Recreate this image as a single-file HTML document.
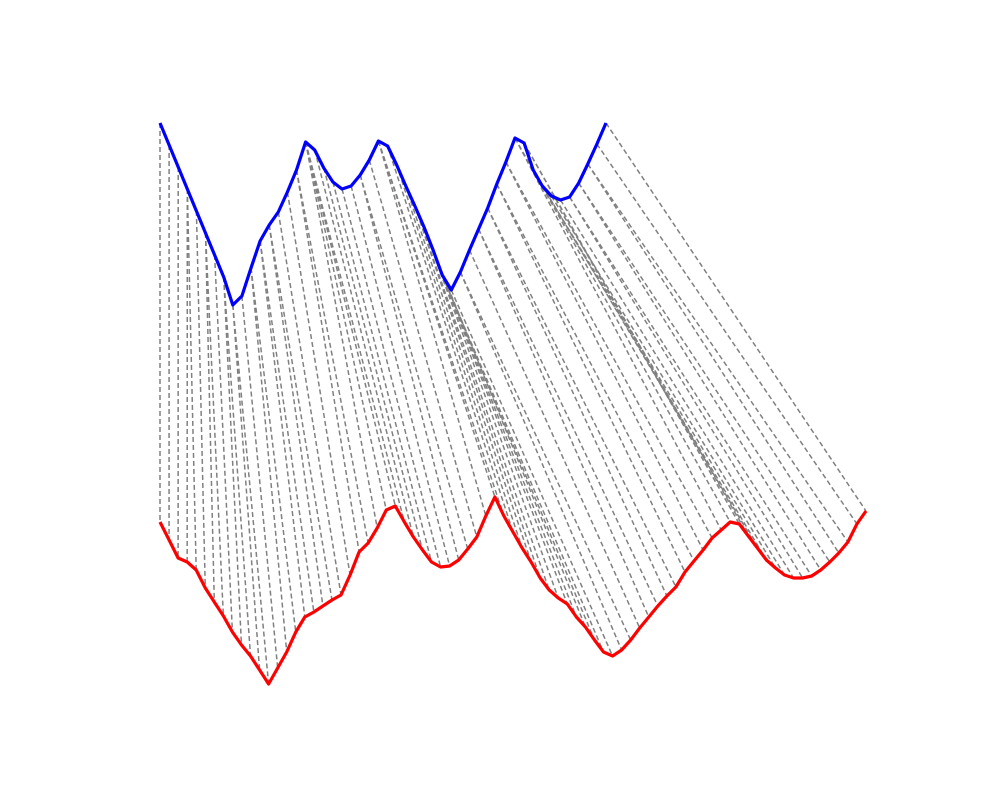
<!DOCTYPE html>
<html>
<head>
<meta charset="utf-8">
<style>
html,body{margin:0;padding:0;background:#fff;}
svg{display:block;}
</style>
</head>
<body>
<svg id="chart" width="1000" height="800" viewBox="0 0 1000 800" xmlns="http://www.w3.org/2000/svg">
  <g id="links"></g>
  <path id="blue" fill="none" stroke="#0000ff" stroke-width="3.2" stroke-linejoin="round"></path>
  <path id="red" fill="none" stroke="#ff0000" stroke-width="3.2" stroke-linejoin="round"></path>
</svg>
<script>
const blueValues = [5.77,5.55,5.33,5.11,4.89,4.67,4.45,4.23,3.95,4.04,4.32,4.59,4.75,4.88,5.08,5.30,5.58,5.50,5.32,5.18,5.11,5.14,5.25,5.40,5.59,5.54,5.35,5.14,4.94,4.73,4.50,4.25,4.10,4.28,4.50,4.71,4.92,5.16,5.38,5.62,5.57,5.30,5.14,5.04,5.00,5.03,5.17,5.36,5.56,5.77];
const redValues = [1.78,1.60,1.42,1.38,1.30,1.12,0.98,0.84,0.68,0.55,0.44,0.30,0.16,0.32,0.48,0.68,0.83,0.88,0.94,1.00,1.05,1.25,1.48,1.57,1.72,1.90,1.94,1.78,1.63,1.50,1.38,1.33,1.34,1.40,1.51,1.63,1.84,2.03,1.84,1.68,1.52,1.38,1.22,1.10,1.02,0.96,0.83,0.73,0.60,0.48,0.44,0.50,0.60,0.72,0.83,0.94,1.04,1.13,1.28,1.39,1.50,1.62,1.70,1.78,1.76,1.64,1.52,1.40,1.32,1.25,1.22,1.22,1.24,1.30,1.38,1.47,1.58,1.76,1.89];

const X0 = 160, BLUE_END = 606, RED_END = 866;
function xBlue(i){ return X0 + i*(BLUE_END-X0)/(blueValues.length-1); }
function xRed(j){ return X0 + j*(RED_END-X0)/(redValues.length-1); }
function yScale(v){ return 700 - v*100; }

function zn(a){
  const m = a.reduce((s,v)=>s+v,0)/a.length;
  const sd = Math.sqrt(a.reduce((s,v)=>s+(v-m)*(v-m),0)/a.length)||1;
  return a.map(v=>(v-m)/sd);
}
function dtwPath(a,b){
  const n=a.length,m=b.length;
  const D=[];
  for(let i=0;i<n;i++){D.push(new Array(m).fill(Infinity));}
  for(let i=0;i<n;i++)for(let j=0;j<m;j++){
    const c=Math.abs(a[i]-b[j]);
    if(i===0&&j===0){D[i][j]=c;continue;}
    let best=Infinity;
    if(i>0)best=Math.min(best,D[i-1][j]);
    if(j>0)best=Math.min(best,D[i][j-1]);
    if(i>0&&j>0)best=Math.min(best,D[i-1][j-1]);
    D[i][j]=c+best;
  }
  const path=[];let i=n-1,j=m-1;path.push([i,j]);
  while(i>0||j>0){
    if(i===0)j--;else if(j===0)i--;
    else{
      const d=D[i-1][j-1],u=D[i-1][j],l=D[i][j-1];
      if(d<=u&&d<=l){i--;j--;}else if(u<l)i--;else j--;
    }
    path.push([i,j]);
  }
  return path.reverse();
}

const NS="http://www.w3.org/2000/svg";
const links=document.getElementById('links');
const path=dtwPath(zn(blueValues),zn(redValues));
path.forEach(([i,j])=>{
  const ln=document.createElementNS(NS,'line');
  
  
  ln.setAttribute('x1',xBlue(i));ln.setAttribute('y1',yScale(blueValues[i]));
  ln.setAttribute('x2',xRed(j));ln.setAttribute('y2',yScale(redValues[j]));
  ln.setAttribute('stroke','#808080');ln.setAttribute('stroke-width','1.5');
  ln.setAttribute('stroke-dasharray','5,3');
  links.appendChild(ln);
});
function pathD(vals,xf){return vals.map((v,i)=>(i?'L':'M')+xf(i).toFixed(1)+','+yScale(v).toFixed(1)).join(' ');}
document.getElementById('blue').setAttribute('d',pathD(blueValues,xBlue));
document.getElementById('red').setAttribute('d',pathD(redValues,xRed));
</script>
</body>
</html>
